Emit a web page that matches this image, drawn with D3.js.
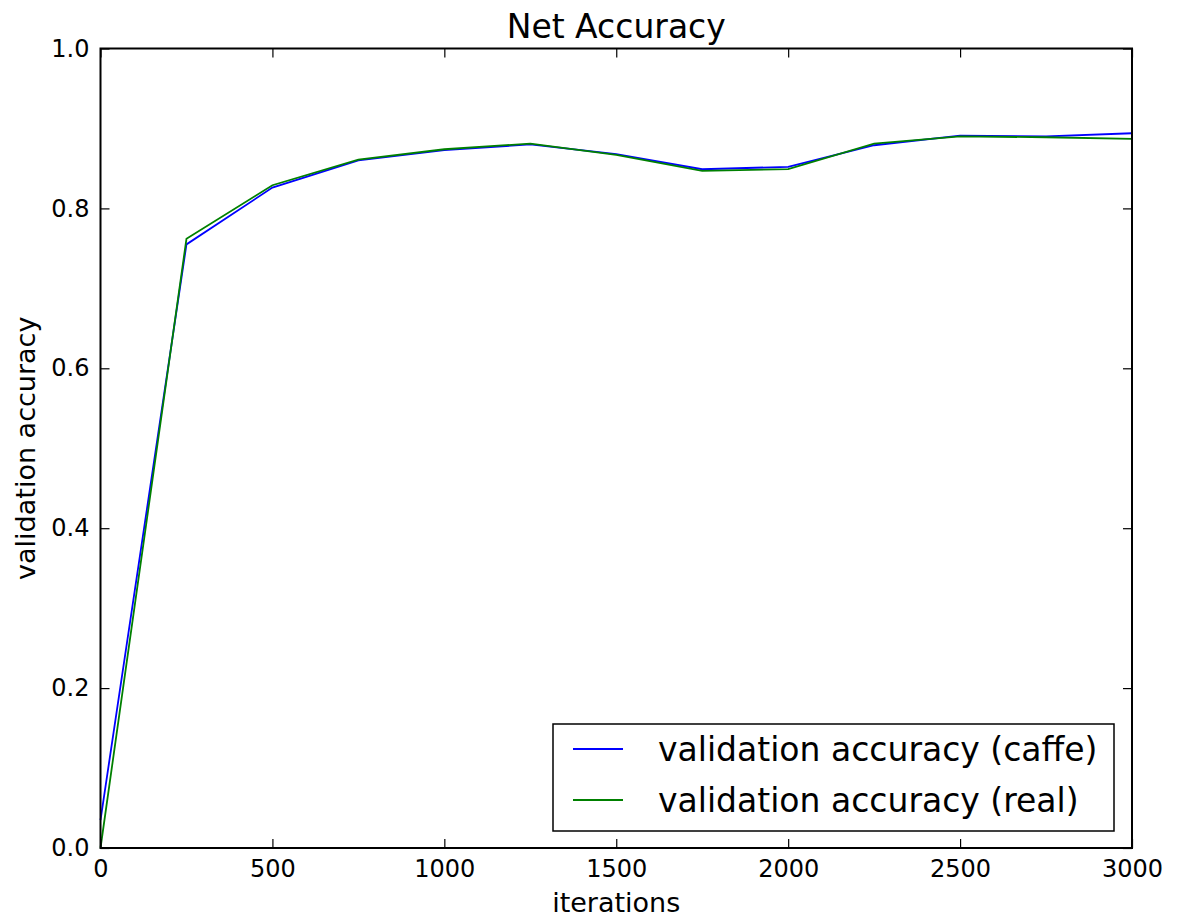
<!DOCTYPE html>
<html>
<head>
<meta charset="utf-8">
<script src="https://cdn.jsdelivr.net/npm/d3@7"></script>
<style>
  html, body { margin: 0; padding: 0; background: #fff; }
  svg { display: block; font-family: "DejaVu Sans", sans-serif; }
</style>
</head>
<body>
<svg id="chart" width="1184" height="924"></svg>
<script>
// Validation accuracy logged every 250 iterations
const iterations = [0, 250, 500, 750, 1000, 1250, 1500, 1750, 2000, 2250, 2500, 2750, 3000];
const accCaffe = [0.035, 0.755, 0.826, 0.860, 0.873, 0.880, 0.868, 0.849, 0.852, 0.879, 0.891, 0.890, 0.894];
const accReal  = [0.000, 0.762, 0.829, 0.861, 0.874, 0.881, 0.867, 0.847, 0.849, 0.881, 0.890, 0.889, 0.887];
const xTicks = [0, 500, 1000, 1500, 2000, 2500, 3000];
const yTicks = [0.0, 0.2, 0.4, 0.6, 0.8, 1.0];
const seriesNames = ["validation accuracy (caffe)", "validation accuracy (real)"];
const seriesColors = ["#0000ff", "#008000"];

const svg = d3.select("#chart");
const plotL = 100.5, plotR = 1132, plotT = 48.5, plotB = 848;

const x = d3.scaleLinear().domain([0, 3000]).range([plotL, plotR]);
const y = d3.scaleLinear().domain([0, 1]).range([plotB, plotT]);

// Series lines
const line = d3.line().x(d => x(d[0])).y(d => y(d[1]));
[accCaffe, accReal].forEach((vals, i) => {
  svg.append("path")
    .datum(iterations.map((it, j) => [it, vals[j]]))
    .attr("fill", "none")
    .attr("stroke", seriesColors[i])
    .attr("stroke-width", 1.8)
    .attr("stroke-linejoin", "miter")
    .attr("d", line);
});

// Axes with inward ticks on all four sides
const tickLen = 9;
const fs = 24;
const axB = svg.append("g").attr("transform", `translate(0,${plotB})`)
  .call(d3.axisBottom(x).tickValues(xTicks).tickSize(-tickLen).tickPadding(12).tickFormat(d3.format("d")));
const axT = svg.append("g").attr("transform", `translate(0,${plotT})`)
  .call(d3.axisTop(x).tickValues(xTicks).tickSize(-tickLen).tickFormat(""));
const axL = svg.append("g").attr("transform", `translate(${plotL},0)`)
  .call(d3.axisLeft(y).tickValues(yTicks).tickSize(-tickLen).tickPadding(11).tickFormat(d3.format(".1f")));
const axR = svg.append("g").attr("transform", `translate(${plotR},0)`)
  .call(d3.axisRight(y).tickValues(yTicks).tickSize(-tickLen).tickFormat(""));
[axB, axT, axL, axR].forEach(g => {
  g.select(".domain").remove();
  g.selectAll(".tick line").attr("stroke", "#000").attr("stroke-width", 1.2);
  g.selectAll(".tick text").attr("fill", "#000").attr("font-size", fs)
    .attr("font-family", "DejaVu Sans, sans-serif");
});

// Frame
svg.append("rect")
  .attr("x", plotL).attr("y", plotT)
  .attr("width", plotR - plotL).attr("height", plotB - plotT)
  .attr("fill", "none").attr("stroke", "#000").attr("stroke-width", 2);

// Title and axis labels
svg.append("text").attr("x", (plotL + plotR) / 2).attr("y", 38)
  .attr("text-anchor", "middle").attr("font-size", 33).text("Net Accuracy");
svg.append("text").attr("x", (plotL + plotR) / 2).attr("y", 912)
  .attr("text-anchor", "middle").attr("font-size", 27).text("iterations");
svg.append("text")
  .attr("transform", `translate(35,${(plotT + plotB) / 2}) rotate(-90)`)
  .attr("text-anchor", "middle").attr("font-size", 27).text("validation accuracy");

// Legend
const lg = svg.append("g");
lg.append("rect").attr("x", 553).attr("y", 724).attr("width", 561).attr("height", 107)
  .attr("fill", "#fff").attr("stroke", "#000").attr("stroke-width", 1.5);
seriesNames.forEach((name, i) => {
  const yy = 749 + i * 51;
  lg.append("line").attr("x1", 573).attr("x2", 623).attr("y1", yy).attr("y2", yy)
    .attr("stroke", seriesColors[i]).attr("stroke-width", 1.8);
  lg.append("text").attr("x", 658).attr("y", yy + 12).attr("font-size", 33).text(name);
});
</script>
</body>
</html>
